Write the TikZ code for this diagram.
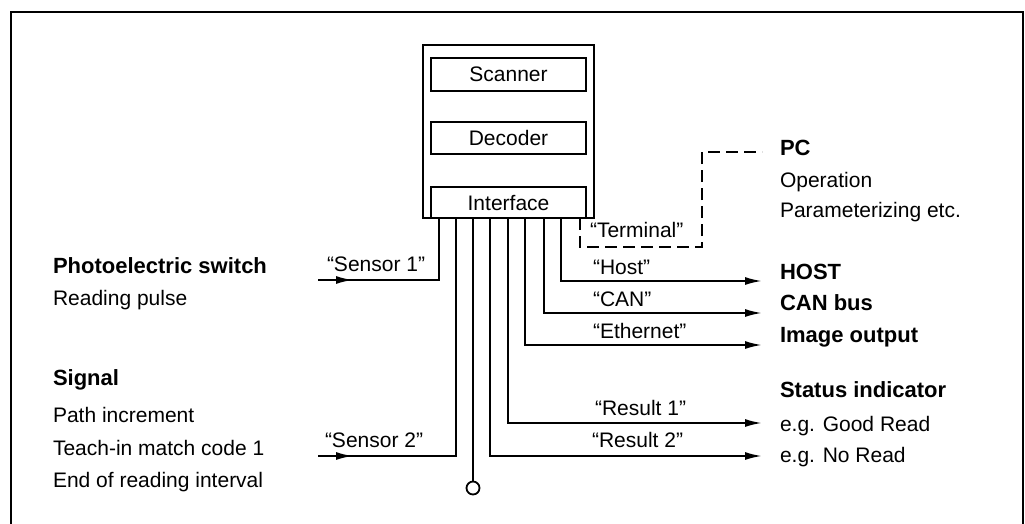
\documentclass[tikz,border=0pt]{standalone}
\usepackage{fontspec}
\setmainfont{Liberation Sans}
\usetikzlibrary{arrows.meta}
\begin{document}
\begin{tikzpicture}[x=1pt,y=-1pt,
  every node/.style={font=\fontsize{21}{25}\selectfont, inner sep=0pt, outer sep=0pt},
  boldtxt/.style={font=\fontsize{22}{26}\selectfont\bfseries},
  wire/.style={line width=2pt},
  arr/.style={wire,-{Latex[length=17pt,width=8pt]}},
  unitbox/.style={draw, line width=2.2pt, minimum width=155pt, inner sep=0pt},
  lbl/.style={anchor=base west},
  dashwire/.style={line width=1.6pt, dash pattern=on 12pt off 6pt},
]
\useasboundingbox (0,0) rectangle (1025,523);
\clip (0,0) rectangle (1025,523);
% frame
\draw[line width=2.6pt] (11,530) -- (11,12) -- (1023,12) -- (1023,530);

% main unit
\node[draw, line width=2.6pt, minimum width=171pt, minimum height=173pt] (main) at (508.5,131.5) {};
\node[unitbox, minimum height=33pt] (scanner) at (508.5,74.5) {Scanner};
\node[unitbox, minimum height=32pt] (decoder) at (508.5,138) {Decoder};
\node[unitbox, minimum height=31pt] (iface) at (508.5,202.5) {Interface};

% pins
\coordinate (p1) at (439,218);
\coordinate (p2) at (456,218);
\coordinate (p3) at (473,218);
\coordinate (p4) at (490,218);
\coordinate (p5) at (508,218);
\coordinate (p6) at (525,218);
\coordinate (p7) at (544,218);
\coordinate (p8) at (561,218);
\coordinate (p9) at (580,218);

% inputs
\coordinate (s1) at (318,280);
\coordinate (s2) at (318,456);
\draw[wire] (s1) -| (p1);
\draw[arr] (s1) -- (353,280);
\draw[wire] (s2) -| (p2);
\draw[arr] (s2) -- (353,456);

% ground pin
\node[draw, circle, line width=1.8pt, minimum size=13pt] (gnd) at (473,488) {};
\draw[wire] (p3) -- (gnd);

% outputs
\coordinate (eHost) at (762,281);
\coordinate (eCan) at (762,313);
\coordinate (eEth) at (762,345);
\coordinate (eRes1) at (762,423);
\coordinate (eRes2) at (762,456);
\coordinate (ePC) at (762,152);
\draw[arr] (p8) |- (eHost);
\draw[arr] (p7) |- (eCan);
\draw[arr] (p6) |- (eEth);
\draw[arr] (p5) |- (eRes1);
\draw[arr] (p4) |- (eRes2);
\draw[dashwire] (p9) |- (702,247) |- (ePC);

% wire labels
\node[lbl] (lS1) at (327,271) {“Sensor 1”};
\node[lbl] (lS2) at (325,447) {“Sensor 2”};
\node[lbl] (lTerm) at (590,237) {“Terminal”};
\node[lbl] (lHost) at (593,274) {“Host”};
\node[lbl] (lCan) at (593,306) {“CAN”};
\node[lbl] (lEth) at (593,338) {“Ethernet”};
\node[lbl] (lR1) at (595,415) {“Result 1”};
\node[lbl] (lR2) at (592,447) {“Result 2”};

% left texts
\node[lbl, boldtxt] (photo) at (53,273) {Photoelectric switch};
\node[lbl] (pulse) at (53,305) {Reading pulse};
\node[lbl, boldtxt] (signal) at (53,385) {Signal};
\node[lbl] (path) at (53,422) {Path increment};
\node[lbl] (teach) at (53,455) {Teach-in match code 1};
\node[lbl] (endint) at (53,487) {End of reading interval};

% right texts
\node[lbl, boldtxt] (pc) at (780,155) {PC};
\node[lbl] (oper) at (780,187) {Operation};
\node[lbl] (param) at (780,217) {Parameterizing etc.};
\node[lbl, boldtxt] (host) at (780,279) {HOST};
\node[lbl, boldtxt] (canbus) at (780,310) {CAN bus};
\node[lbl, boldtxt] (image) at (780,342) {Image output};
\node[lbl, boldtxt] (status) at (780,397) {Status indicator};
\node[lbl] (good) at (780,431) {e.g. Good Read};
\node[lbl] (noread) at (780,462) {e.g. No Read};
\end{tikzpicture}
\end{document}
